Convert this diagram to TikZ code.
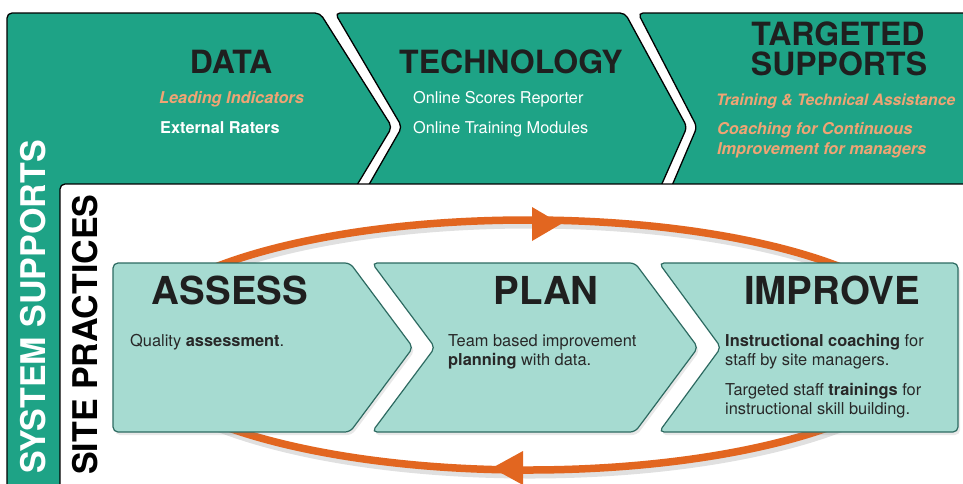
\documentclass[tikz,border=0pt]{standalone}
\usepackage{fontspec}
\setmainfont{TeX Gyre Heros}
\usetikzlibrary{shadows}
\definecolor{tealband}{RGB}{30,163,134}
\definecolor{boxfill}{RGB}{166,219,209}
\definecolor{boxline}{RGB}{45,106,97}
\definecolor{cycleorange}{RGB}{226,102,32}
\definecolor{softorange}{RGB}{240,164,116}
\definecolor{bodytext}{RGB}{40,40,40}
\begin{document}
\begin{tikzpicture}[x=1pt,y=-1pt,
  band/.style={fill=tealband,draw=black,line width=1.3pt,rounded corners=5pt},
  stagebox/.style={fill=boxfill,draw=boxline,line width=1.2pt,rounded corners=5pt,
    drop shadow={opacity=0.18,shadow xshift=2pt,shadow yshift=-3pt}},
  toptitle/.style={inner sep=0pt,anchor=base,text=black!88,font=\bfseries\fontsize{32}{32}\selectfont},
  stagetitle/.style={inner sep=0pt,anchor=base,text=black!88,font=\bfseries\fontsize{38.5}{38.5}\selectfont},
  topitem/.style={inner sep=0pt,anchor=base west,text=white,font=\fontsize{16.3}{19}\selectfont},
  topbold/.style={topitem,font=\bfseries\fontsize{16.3}{19}\selectfont},
  orangeitem/.style={inner sep=0pt,anchor=base west,text=softorange,font=\bfseries\itshape\fontsize{16.3}{19}\selectfont},
  bodyitem/.style={inner sep=0pt,anchor=base west,text=bodytext,font=\fontsize{16.4}{19}\selectfont},
  sidetitle/.style={inner sep=0pt,anchor=base west,rotate=90,font=\bfseries\fontsize{34}{34}\selectfont}
]
\useasboundingbox (0,0) rectangle (963,483);
\clip (0,0) rectangle (963,483);

% top band and left strip
\path[band] (7,500) -- (7,13) -- (320,13) -- (392,127) -- (351,195) -- (110,195) -- (110,500) -- cycle;
\path[band] (335,13) -- (625,13) -- (687,127) -- (657,195) -- (363,195) -- (402,127) -- cycle;
\path[band] (638,13) -- (990,13) -- (990,195) -- (668,195) -- (697,127) -- cycle;

% inner white panel
\path[fill=white,draw=black,line width=1.3pt,rounded corners=5pt] (60,500) -- (60,184) -- (990,184) -- (990,500) -- cycle;

% cycle ellipse
\draw[black,opacity=0.12,line width=9pt] (530,349) ellipse [x radius=400pt, y radius=125pt];
\draw[cycleorange,line width=7.5pt] (528,345) ellipse [x radius=400pt, y radius=125pt];
\fill[cycleorange] (532,207) -- (561,224) -- (532,241) -- cycle;
\fill[cycleorange] (523,451) -- (492,468) -- (523,485) -- cycle;

% stage boxes
\path[stagebox] (113,263) -- (350,263) -- (413,347.5) -- (350,432) -- (113,432) -- cycle;
\path[stagebox] (372,263) -- (635,263) -- (698,347.5) -- (635,432) -- (372,432) -- (435,347.5) -- cycle;
\path[stagebox] (659,263) -- (958,263) -- (958,432) -- (659,432) -- (721,347.5) -- cycle;

% top texts
\node[toptitle] (data) at (231,73) {DATA};
\node[orangeitem] (lead) at (159,103) {Leading Indicators};
\node[topbold] (ext) at (160,133) {External Raters};

\node[toptitle] (tech) at (511,73) {TECHNOLOGY};
\node[topitem] (osr) at (413,103) {Online Scores Reporter};
\node[topitem] (otm) at (413,133) {Online Training Modules};

\node[toptitle] (targ) at (838,45) {TARGETED};
\node[toptitle] (supp) at (839,75) {SUPPORTS};
\node[orangeitem,font=\bfseries\itshape\fontsize{15.7}{19}\selectfont] (tta) at (716,105) {Training \& Technical Assistance};
\node[orangeitem] (ccia) at (717,134) {Coaching for Continuous};
\node[orangeitem] (ccib) at (717,154) {Improvement for managers};

% side titles
\node[sidetitle,text=white] (sys) at (45,474) {SYSTEM SUPPORTS};
\node[sidetitle,text=black] (site) at (97,475) {SITE PRACTICES};

% stage texts
\node[stagetitle] (assess) at (230,304) {ASSESS};
\node[bodyitem] (qa) at (130,346) {Quality \textbf{assessment}.};

\node[stagetitle] (plan) at (546,304) {PLAN};
\node[bodyitem] (pa) at (448,346) {Team based improvement};
\node[bodyitem] (pb) at (448,365) {\textbf{planning} with data.};

\node[stagetitle] (improve) at (832,304) {IMPROVE};
\node[bodyitem] (ia) at (725,346) {\textbf{Instructional coaching} for};
\node[bodyitem] (ib) at (725,365) {staff by site managers.};
\node[bodyitem] (ic) at (725,395) {Targeted staff \textbf{trainings} for};
\node[bodyitem] (id) at (725,414) {instructional skill building.};
\end{tikzpicture}
\end{document}
